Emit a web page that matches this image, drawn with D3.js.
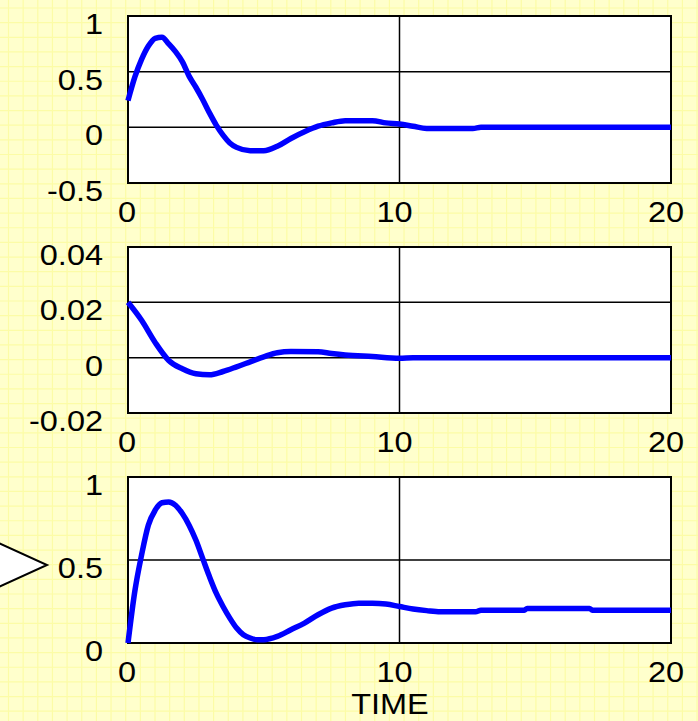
<!DOCTYPE html>
<html>
<head>
<meta charset="utf-8">
<script src="https://cdn.jsdelivr.net/npm/d3@7"></script>
<style>
  html, body { margin: 0; padding: 0; background: #ffffcc; }
  svg { display: block; }
  text { font-family: "Liberation Sans", Arial, sans-serif; fill: #000; }
</style>
</head>
<body>
<script>
// Simulated response traces over TIME (0..20)
const timeTop = [0, 0.25, 0.5, 0.75, 1.0, 1.25, 1.5, 1.75, 2.0, 2.25, 2.5, 2.75, 3.0, 3.25, 3.5, 3.75, 4.0, 4.5, 5.0, 5.5, 6.0, 6.5, 7.0, 7.5, 8.0, 8.5, 9.0, 9.5, 10, 10.5, 11, 12, 12.7, 13, 20];
const valueTop = [0.24, 0.45, 0.61, 0.73, 0.80, 0.81, 0.75, 0.68, 0.59, 0.46, 0.36, 0.25, 0.13, 0.02, -0.07, -0.14, -0.18, -0.21, -0.21, -0.17, -0.10, -0.04, 0.01, 0.04, 0.06, 0.06, 0.06, 0.04, 0.03, 0.01, -0.01, -0.01, -0.01, 0, 0];

const timeMid = [0, 0.5, 1.0, 1.5, 2.0, 2.5, 3.0, 3.5, 4.0, 4.5, 5.0, 5.5, 6.0, 7.0, 7.5, 8.0, 9.0, 10, 10.5, 20];
const valueMid = [0.020, 0.0135, 0.0055, -0.001, -0.004, -0.0058, -0.0062, -0.005, -0.0033, -0.0015, 0.0003, 0.0018, 0.0022, 0.0021, 0.0015, 0.001, 0.0004, -0.0002, 0, 0];

const timeBot = [0, 0.25, 0.5, 0.75, 1.0, 1.25, 1.5, 1.75, 2.0, 2.25, 2.5, 2.75, 3.0, 3.25, 3.5, 3.75, 4.0, 4.25, 4.5, 4.75, 5.0, 5.5, 6.0, 6.5, 7.0, 7.5, 8.0, 8.5, 9.0, 9.5, 10, 10.5, 11, 11.5, 12.8, 13, 14.6, 14.7, 17, 17.1, 20];
const valueBot = [0, 0.31, 0.53, 0.71, 0.80, 0.845, 0.85, 0.83, 0.78, 0.71, 0.62, 0.51, 0.40, 0.30, 0.22, 0.15, 0.09, 0.05, 0.03, 0.02, 0.02, 0.04, 0.08, 0.12, 0.17, 0.21, 0.23, 0.24, 0.24, 0.235, 0.22, 0.205, 0.195, 0.188, 0.188, 0.198, 0.198, 0.208, 0.208, 0.198, 0.198];

const xTicks = [0, 10, 20];
const yTicksTop = [-0.5, 0, 0.5, 1];
const yTicksMid = [-0.02, 0, 0.02, 0.04];
const yTicksBot = [0, 0.5, 1];

const W = 698, H = 721;
const svg = d3.select("body").append("svg").attr("width", W).attr("height", H);

// graph-paper backdrop
const paper = svg.append("g");
paper.append("rect").attr("width", W).attr("height", H).attr("fill", "#ffffcc");
const step = 14.65;
const gx = d3.range(8.5, W, step), gy = d3.range(8, H, step);
paper.selectAll("line.gv").data(gx).join("line")
  .attr("x1", d => d).attr("x2", d => d).attr("y1", 0).attr("y2", H)
  .attr("stroke", "#fcfca6").attr("stroke-width", 1.2);
paper.selectAll("line.gh").data(gy).join("line")
  .attr("y1", d => d).attr("y2", d => d).attr("x1", 0).attr("x2", W)
  .attr("stroke", "#fcfca6").attr("stroke-width", 1.2);

// pointer shape at the left of the lower panel
svg.append("path")
  .attr("d", d3.line()([[-30, 530], [47, 565], [-30, 600]]))
  .attr("fill", "#fff").attr("stroke", "#000").attr("stroke-width", 2);

const x = d3.scaleLinear().domain([0, 20]).range([128, 671]);
const FS = 29, STRETCH = 1.12;

function label(g, txt, px, py, anchor) {
  g.append("text")
    .attr("transform", `translate(${px},${py}) scale(${STRETCH},1)`)
    .attr("text-anchor", anchor)
    .attr("font-size", FS)
    .text(txt);
}

function panel(times, values, domain, ticks, top, bottom) {
  const y = d3.scaleLinear().domain(domain).range([bottom, top]);
  const g = svg.append("g");
  g.append("rect")
    .attr("x", x(0)).attr("y", y(domain[1]))
    .attr("width", x(20) - x(0)).attr("height", y(domain[0]) - y(domain[1]))
    .attr("fill", "#fff");
  // interior grid lines
  g.selectAll("line.h").data(ticks.filter(t => t > domain[0] && t < domain[1])).join("line")
    .attr("x1", x(0)).attr("x2", x(20)).attr("y1", d => y(d)).attr("y2", d => y(d))
    .attr("stroke", "#000").attr("stroke-width", 1.5);
  g.selectAll("line.v").data(xTicks.filter(t => t > 0 && t < 20)).join("line")
    .attr("x1", d => x(d)).attr("x2", d => x(d)).attr("y1", y(domain[0])).attr("y2", y(domain[1]))
    .attr("stroke", "#000").attr("stroke-width", 1.5);
  // frame
  g.append("rect")
    .attr("x", x(0)).attr("y", y(domain[1]))
    .attr("width", x(20) - x(0)).attr("height", y(domain[0]) - y(domain[1]))
    .attr("fill", "none").attr("stroke", "#000").attr("stroke-width", 2);
  // trace
  const pts = times.map((t, i) => [t, values[i]]);
  g.append("path")
    .attr("d", d3.line().x(d => x(d[0])).y(d => y(d[1])).curve(d3.curveMonotoneX)(pts))
    .attr("fill", "none").attr("stroke", "#0000ff").attr("stroke-width", 5.5)
    .attr("stroke-linejoin", "round");
  // axis labels
  ticks.forEach(t => label(g, String(t), 103, y(t) + 18, "end"));
  xTicks.forEach(t => label(g, String(t), x(t) - (t === 0 ? 1 : 5), y(domain[0]) + 39, "middle"));
}

panel(timeTop, valueTop, [-0.5, 1], yTicksTop, 16, 183);
panel(timeMid, valueMid, [-0.02, 0.04], yTicksMid, 247, 413);
panel(timeBot, valueBot, [0, 1], yTicksBot, 477, 643);

label(svg, "TIME", 390, 714, "middle");
</script>
</body>
</html>
